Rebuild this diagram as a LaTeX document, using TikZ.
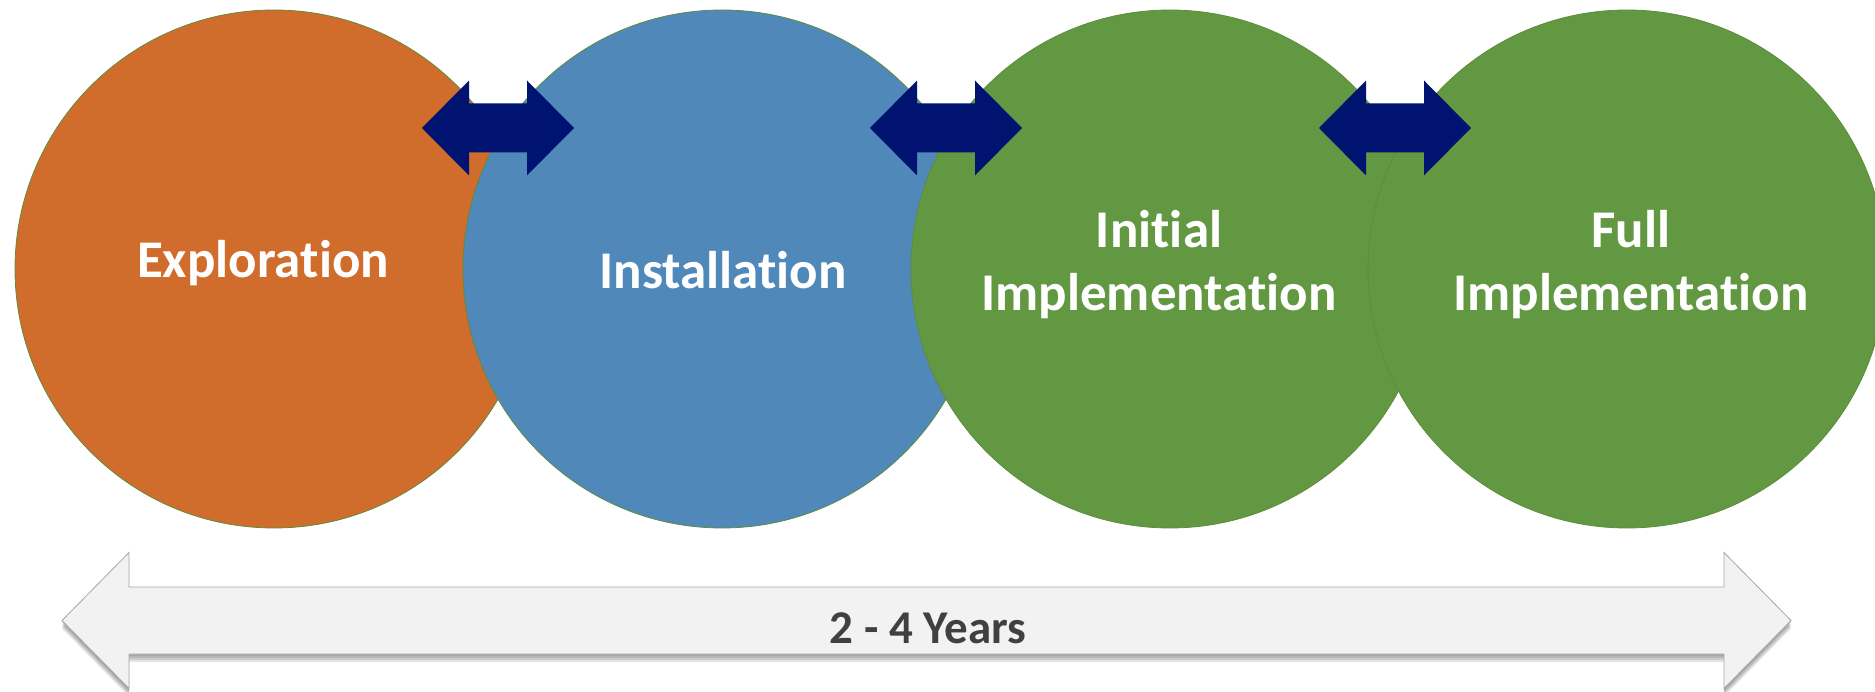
\documentclass[tikz,border=0pt]{standalone}
\usepackage{fontspec}
\setmainfont{Carlito}[Ligatures={TeX,NoCommon}]
\usetikzlibrary{calc}
\definecolor{orng}{RGB}{208,109,44}
\definecolor{blu}{RGB}{79,136,185}
\definecolor{grn}{RGB}{98,152,65}
\definecolor{rim}{RGB}{95,140,60}
\definecolor{navy}{RGB}{0,19,112}
\definecolor{barfill}{RGB}{242,242,242}
\definecolor{barline}{RGB}{166,166,166}
\definecolor{bartext}{RGB}{64,64,64}
\begin{document}
\begin{tikzpicture}[x=1pt,y=-1pt,
  phase/.style={circle,minimum size=518pt,inner sep=0pt,draw=rim,line width=0.8pt},
  lbl/.style={text=white,font=\bfseries\fontsize{53}{63}\selectfont,align=center,inner sep=0pt},
  dblarrow/.pic={\fill[navy] (-76,0) -- (-29,-47.5) -- (-29,-24.5) -- (29,-24.5) -- (29,-47.5) -- (76,0) -- (29,47.5) -- (29,24.5) -- (-29,24.5) -- (-29,47.5) -- cycle;},
  barshape/.pic={\path[pic actions] (-864.5,0) -- (-797.5,-68) -- (-797.5,-33.5) -- (797.5,-33.5) -- (797.5,-68) -- (864.5,0) -- (797.5,68) -- (797.5,33.5) -- (-797.5,33.5) -- (-797.5,68) -- cycle;}
]
\useasboundingbox (0,0) rectangle (1875,692);
\clip (0,0) rectangle (1875,692);
% circles
\node[phase,fill=orng] (expl) at (274,269) {};
\node[phase,fill=blu] (inst) at (722,269) {};
\node[phase,fill=grn] (init) at (1170,269) {};
\node[phase,fill=grn] (full) at (1627,269) {};
% labels
\node[lbl,anchor=base] (texpl) at (263,278) {Exploration};
\node[lbl,anchor=base] (tinst) at (723,289) {Installation};
\node[lbl] (tinit) at (1159,265) {Initial\\Implementation};
\node[lbl] (tfull) at (1631,265) {Full\\Implementation};
% connecting double arrows
\coordinate (a1) at (498,128);
\coordinate (a2) at (946,128);
\coordinate (a3) at (1395,128);
\pic at (a1) {dblarrow};
\pic at (a2) {dblarrow};
\pic at (a3) {dblarrow};
% timeline arrow with soft shadow
\coordinate (bar) at (926.5,620.5);
\foreach \d in {2,4,6,8}{
  \pic[fill=black,fill opacity=0.1] at ($(bar)+(0,\d)$) {barshape};
}
\pic[fill=barfill,draw=barline,line width=0.8pt] at (bar) {barshape};
\node[text=bartext,font=\bfseries\fontsize{47}{56}\selectfont,anchor=base,inner sep=0pt] (yrs) at (928,643) {2 - 4 Years};
\end{tikzpicture}
\end{document}
